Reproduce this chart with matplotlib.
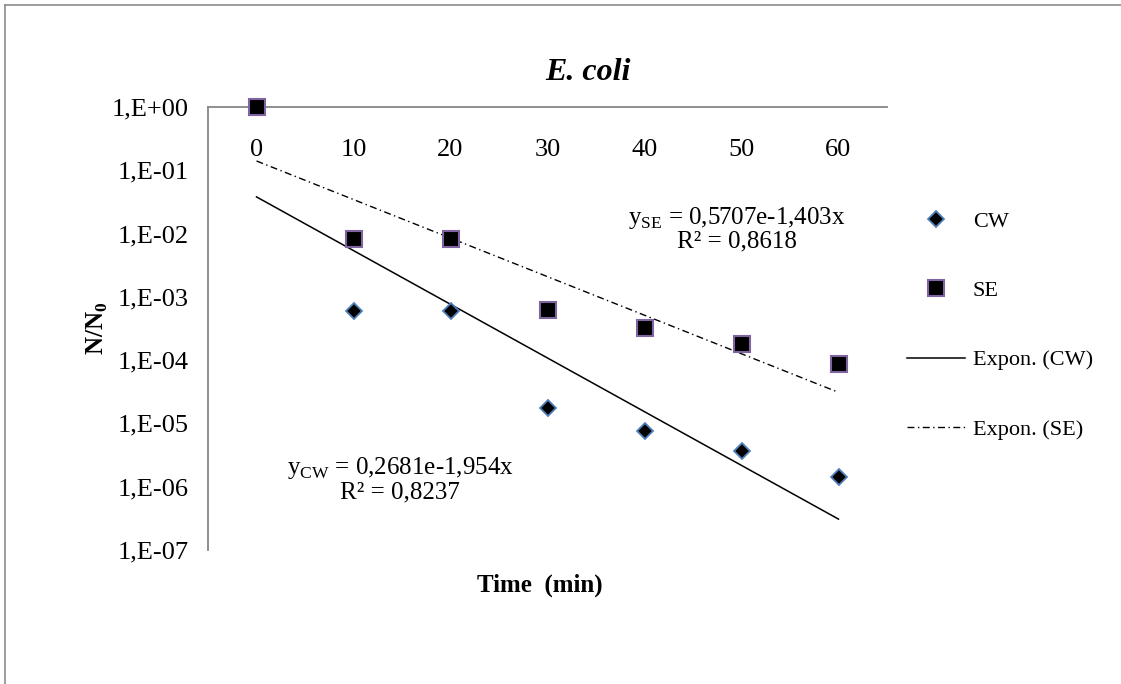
import numpy as np
import matplotlib
matplotlib.use("Agg")
import matplotlib.pyplot as plt
from matplotlib.lines import Line2D

# ---------------- data ----------------
times = [0, 10, 20, 30, 40, 50, 60]
cw_vals = [1.0, 5.9e-4, 6.0e-4, 1.76e-5, 7.5e-6, 3.65e-6, 1.45e-6]
se_vals = [1.0, 8.3e-3, 8.3e-3, 6.2e-4, 3.2e-4, 1.8e-4, 8.6e-5]

# exponential trend lines as shown on the chart (x = point number 1..7)
cw_fit = (0.2681, -1.954)
se_fit = (0.5707, -1.403)
cw_label = "y$_{\\mathrm{CW}}$ = 0,2681e-1,954x\nR² = 0,8237"
se_label = "y$_{\\mathrm{SE}}$ = 0,5707e-1,403x\nR² = 0,8618"

ytick_vals = [1e0, 1e-1, 1e-2, 1e-3, 1e-4, 1e-5, 1e-6, 1e-7]
ytick_labels = ["1,E+00", "1,E-01", "1,E-02", "1,E-03", "1,E-04", "1,E-05", "1,E-06", "1,E-07"]

# ---------------- style ----------------
plt.rcParams["font.family"] = ["Liberation Serif", "DejaVu Serif"]
plt.rcParams["mathtext.fontset"] = "custom"
plt.rcParams["mathtext.rm"] = "Liberation Serif"
plt.rcParams["mathtext.bf"] = "Liberation Serif:bold"

W, H = 1121, 684
fig = plt.figure(figsize=(W / 100, H / 100), dpi=100)
ax = fig.add_axes([208 / W, 1 - 550 / H, (887 - 208) / W, (550 - 107) / H])

pos = np.arange(len(times))

# trend lines
xt = np.linspace(0, len(times) - 1, 50)
ax.plot(xt, cw_fit[0] * np.exp(cw_fit[1] * (xt + 1)), color="black", lw=1.1,
        label="Expon. (CW)", zorder=2)
ax.plot(xt, se_fit[0] * np.exp(se_fit[1] * (xt + 1)), color="black", lw=1.0,
        dashes=(5, 2.5, 1, 2.5), label="Expon. (SE)", zorder=2)

# points
ax.plot(pos, cw_vals, linestyle="none", marker="D", markersize=8.3,
        markerfacecolor="black", markeredgecolor="#4F81BD", markeredgewidth=1.3,
        label="CW", clip_on=False, zorder=3)
ax.plot(pos, se_vals, linestyle="none", marker="s", markersize=11,
        markerfacecolor="black", markeredgecolor="#8064A2", markeredgewidth=1.5,
        label="SE", clip_on=False, zorder=4)

# axes
ax.set_yscale("log")
ax.set_ylim(1e-7, 1e0)
ax.set_xlim(-0.5, len(times) - 0.5)
ax.set_yticks(ytick_vals)
ax.set_yticklabels(ytick_labels)
ax.yaxis.set_minor_locator(matplotlib.ticker.NullLocator())
ax.tick_params(axis="y", length=0, pad=14, labelsize=19)

ax.set_xticks(pos)
ax.set_xticklabels([str(t) for t in times])
ax.tick_params(axis="x", bottom=False, labelbottom=False, top=False, labeltop=True,
               length=0, pad=-39, labelsize=19)

for side in ["right", "bottom"]:
    ax.spines[side].set_visible(False)
for side in ["left", "top"]:
    ax.spines[side].set_color("#868686")
    ax.spines[side].set_linewidth(1.3)

# labels and title
fig.text(540 / W, 1 - 585 / H, "Time  (min)", ha="center", va="center",
         fontsize=18, fontweight="bold")
fig.text(97 / W, 1 - 328 / H, "N/N$_\\mathbf{0}$", ha="center", va="center",
         rotation=90, fontsize=18, fontweight="bold")
fig.text(588 / W, 1 - 73 / H, "E. coli", ha="center", va="center",
         fontsize=23, fontweight="bold", fontstyle="italic")

# trend equations
ax.text(4.95, 10 ** -1.92, se_label, ha="center", va="center", fontsize=18,
        linespacing=1.0)
ax.text(1.48, 10 ** -5.88, cw_label, ha="center", va="center", fontsize=18,
        linespacing=1.0)

# legend
h, l = ax.get_legend_handles_labels()
order = [2, 3, 0, 1]
fig.legend([h[i] for i in order], [l[i] for i in order], loc="upper left",
           bbox_to_anchor=(907 / W, 1 - 211 / H), frameon=False, fontsize=16,
           borderpad=0, borderaxespad=0, labelspacing=2.2, handlelength=2.6,
           handletextpad=0.36)

# chart border (top and left edges visible)
fig.add_artist(Line2D([5 / W, 1], [1 - 5 / H, 1 - 5 / H], color="#8c8c8c", lw=1.2))
fig.add_artist(Line2D([5 / W, 5 / W], [0, 1 - 5 / H], color="#8c8c8c", lw=1.2))

fig.savefig("out.png", dpi=100)
